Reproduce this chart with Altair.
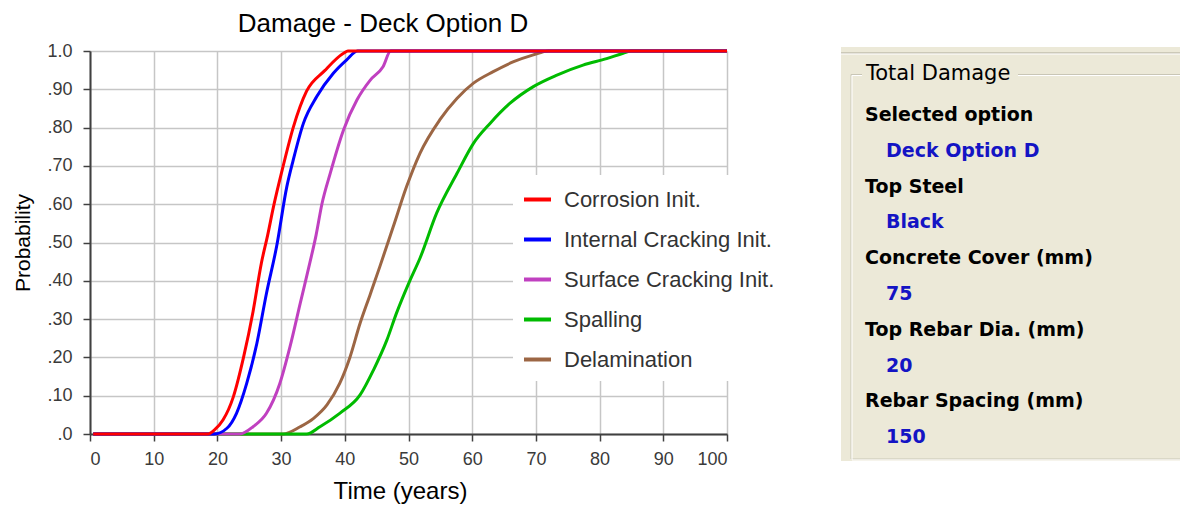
import altair as alt
import pandas as pd

# ---------------- data ----------------
series_names = ["Corrosion Init.", "Internal Cracking Init.", "Surface Cracking Init.", "Spalling", "Delamination"]
series_colors = ["#FF0000", "#0000FF", "#C040C0", "#00BB00", "#9C6644"]
draw_order = ["Delamination", "Spalling", "Surface Cracking Init.", "Internal Cracking Init.", "Corrosion Init."]

corrosion_years = [0.5, 18.5, 19.5, 20.9, 22.5, 24.1, 25.6, 26.9, 27.9, 28.8, 30.3, 31.9, 34.0, 36.8, 39.8, 40.5, 100]
corrosion_prob = [0, 0, 0.01, 0.037, 0.097, 0.20, 0.32, 0.446, 0.52, 0.593, 0.698, 0.80, 0.895, 0.948, 0.994, 1.0, 1.0]

internal_years = [0.5, 19.5, 21.5, 23.0, 24.6, 26.2, 27.7, 29.3, 30.9, 31.9, 33.5, 35.6, 38.2, 40.3, 42.0, 100]
internal_prob = [0, 0, 0.015, 0.054, 0.132, 0.237, 0.367, 0.49, 0.646, 0.715, 0.811, 0.881, 0.942, 0.977, 1.0, 1.0]

surface_years = [0.5, 23.5, 25.6, 27.7, 29.8, 31.4, 33.0, 34.5, 35.5, 36.4, 37.7, 39.8, 41.9, 44.0, 46.0, 47.2, 100]
surface_prob = [0, 0, 0.019, 0.054, 0.132, 0.228, 0.341, 0.446, 0.52, 0.60, 0.68, 0.794, 0.872, 0.924, 0.959, 1.0, 1.0]

spalling_years = [0.5, 34.0, 36.1, 39.2, 42.4, 44.5, 46.6, 48.1, 50.2, 51.8, 54.4, 57.6, 60.2, 62.8, 65.9, 69.6, 73.3, 77.4, 81.1, 83.7, 85.0, 100]
spalling_prob = [0, 0, 0.019, 0.054, 0.102, 0.167, 0.245, 0.315, 0.40, 0.459, 0.576, 0.68, 0.759, 0.811, 0.863, 0.907, 0.937, 0.963, 0.98, 0.994, 1.0, 1.0]

delam_years = [0.5, 30.3, 33.0, 35.1, 37.2, 39.2, 40.8, 42.4, 44.0, 45.5, 47.6, 49.7, 51.8, 54.9, 57.6, 60.2, 63.3, 66.5, 69.6, 72.0, 100]
delam_prob = [0, 0, 0.019, 0.041, 0.076, 0.132, 0.20, 0.289, 0.365, 0.437, 0.541, 0.646, 0.733, 0.82, 0.876, 0.916, 0.946, 0.972, 0.99, 1.0, 1.0]

x_ticks = [0, 10, 20, 30, 40, 50, 60, 70, 80, 90, 100]
y_ticks = [0, 0.1, 0.2, 0.3, 0.4, 0.5, 0.6, 0.7, 0.8, 0.9, 1.0]

chart_title = "Damage - Deck Option D"
x_title = "Time (years)"
y_title = "Probability"

panel_title = "Total Damage"
panel_labels = ["Selected option", "Top Steel", "Concrete Cover (mm)", "Top Rebar Dia. (mm)", "Rebar Spacing (mm)"]
panel_values = ["Deck Option D", "Black", "75", "20", "150"]

# ---------------- tables ----------------
rows = []
for name, ys, ps in [
    ("Corrosion Init.", corrosion_years, corrosion_prob),
    ("Internal Cracking Init.", internal_years, internal_prob),
    ("Surface Cracking Init.", surface_years, surface_prob),
    ("Spalling", spalling_years, spalling_prob),
    ("Delamination", delam_years, delam_prob),
]:
    for yr, p in zip(ys, ps):
        rows.append({"series": name, "year": yr, "prob": p})
df = pd.DataFrame(rows)

prow = []
for i, (lab, val) in enumerate(zip(panel_labels, panel_values)):
    prow.append({"text": lab, "row": 2 * i, "kind": "label"})
    prow.append({"text": val, "row": 2 * i + 1, "kind": "value"})
panel_df = pd.DataFrame(prow)

FONT = "Liberation Sans"
PFONT = "DejaVu Sans"
BEIGE = "#ECE9D8"

color = alt.Color(
    "series:N",
    scale=alt.Scale(domain=series_names, range=series_colors),
    legend=alt.Legend(
        orient="none", legendX=423, legendY=124, title=None,
        symbolType="stroke", symbolSize=729, symbolStrokeWidth=4,
        labelFont=FONT, labelFontSize=22, labelColor="#333333", labelLimit=500,
        labelOffset=11, rowPadding=13, padding=9, fillColor="white",
        strokeColor="white",
    ),
)

base = alt.Chart(df).mark_line(strokeWidth=3, interpolate="monotone").encode(
    x=alt.X("year:Q", scale=alt.Scale(domain=[0, 100], nice=False),
            axis=alt.Axis(values=x_ticks, title=x_title, titleX=310, titlePadding=11,
                          titleFont=FONT, titleFontSize=24, titleFontWeight="normal", titleColor="black",
                          labelFont=FONT, labelFontSize=18, labelColor="#3a3a3a", labelPadding=9,
                          tickSize=7, tickColor="#404040", tickWidth=1.5,
                          domainColor="#404040", domainWidth=2,
                          gridColor="#c6c6c6", gridWidth=1.5)),
    y=alt.Y("prob:Q", scale=alt.Scale(domain=[0, 1], nice=False),
            axis=alt.Axis(values=y_ticks, title=y_title, titlePadding=13,
                          titleFont=FONT, titleFontSize=21, titleFontWeight="normal", titleColor="black",
                          labelFont=FONT, labelFontSize=18, labelColor="#3a3a3a", labelPadding=11,
                          labelExpr="datum.value == 1 ? '1.0' : (datum.value == 0 ? '.0' : replace(format(datum.value, '.2f'), '0.', '.'))",
                          tickSize=7, tickColor="#404040", tickWidth=1.5,
                          domainColor="#404040", domainWidth=2,
                          gridColor="#c6c6c6", gridWidth=1.5)),
    color=color,
)
lines = alt.layer(*[base.transform_filter(alt.datum.series == n) for n in draw_order])

one = pd.DataFrame({"k": [0]})
main_title = alt.Chart(pd.DataFrame({"t": [chart_title]})).mark_text(
    align="center", baseline="alphabetic", font=FONT, fontSize=26, color="#000000").encode(
    x=alt.value(293), y=alt.value(-19), text="t:N")

bg = alt.Chart(one).mark_rect(color=BEIGE).encode(
    x=alt.value(751), x2=alt.value(1100), y=alt.value(-4), y2=alt.value(410))
topline = alt.Chart(one).mark_rule(color="#ACA899", strokeWidth=1).encode(
    x=alt.value(751), x2=alt.value(1100), y=alt.value(2))
topline2 = alt.Chart(one).mark_rule(color="#FFFFFF", strokeWidth=1).encode(
    x=alt.value(751), x2=alt.value(1100), y=alt.value(3))
frame = alt.Chart(one).mark_rect(fillOpacity=0, stroke="#C9C6B6", strokeWidth=1).encode(
    x=alt.value(761), x2=alt.value(1110), y=alt.value(23.5), y2=alt.value(408))
frame_hl = alt.Chart(one).mark_rect(fillOpacity=0, stroke="#FFFFFF", strokeWidth=1).encode(
    x=alt.value(762), x2=alt.value(1111), y=alt.value(24.5), y2=alt.value(409))
title_bg = alt.Chart(one).mark_rect(color=BEIGE).encode(
    x=alt.value(772), x2=alt.value(928), y=alt.value(14), y2=alt.value(34))
title_txt = alt.Chart(pd.DataFrame({"t": [panel_title]})).mark_text(
    align="left", baseline="alphabetic", font=PFONT, fontSize=21, color="#000000").encode(
    x=alt.value(776), y=alt.value(29), text="t:N")

ysc = alt.Scale(domain=[0, 9], range=[70, 392.2])
lab_txt = alt.Chart(panel_df).transform_filter(alt.datum.kind == "label").mark_text(
    align="left", baseline="alphabetic", font=PFONT, fontSize=19, fontWeight="bold", color="#000000").encode(
    x=alt.value(775), y=alt.Y("row:Q", scale=ysc, axis=None), text="text:N")
val_txt = alt.Chart(panel_df).transform_filter(alt.datum.kind == "value").mark_text(
    align="left", baseline="alphabetic", font=PFONT, fontSize=19, fontWeight="bold", color="#1414C4").encode(
    x=alt.value(796), y=alt.Y("row:Q", scale=ysc, axis=None), text="text:N")
panel_text = alt.layer(lab_txt, val_txt)

chart = alt.layer(bg, topline, topline2, frame, frame_hl, title_bg, title_txt, main_title, lines, panel_text).resolve_scale(
    y="independent"
).properties(
    width=637, height=383,
    autosize=alt.AutoSizeParams(type="none"),
    padding={"left": 82, "top": 43, "right": 453, "bottom": 72},
).configure_view(stroke=None).configure(background="white")

chart.save("out.html", embed_options={"renderer": "svg", "actions": False})
